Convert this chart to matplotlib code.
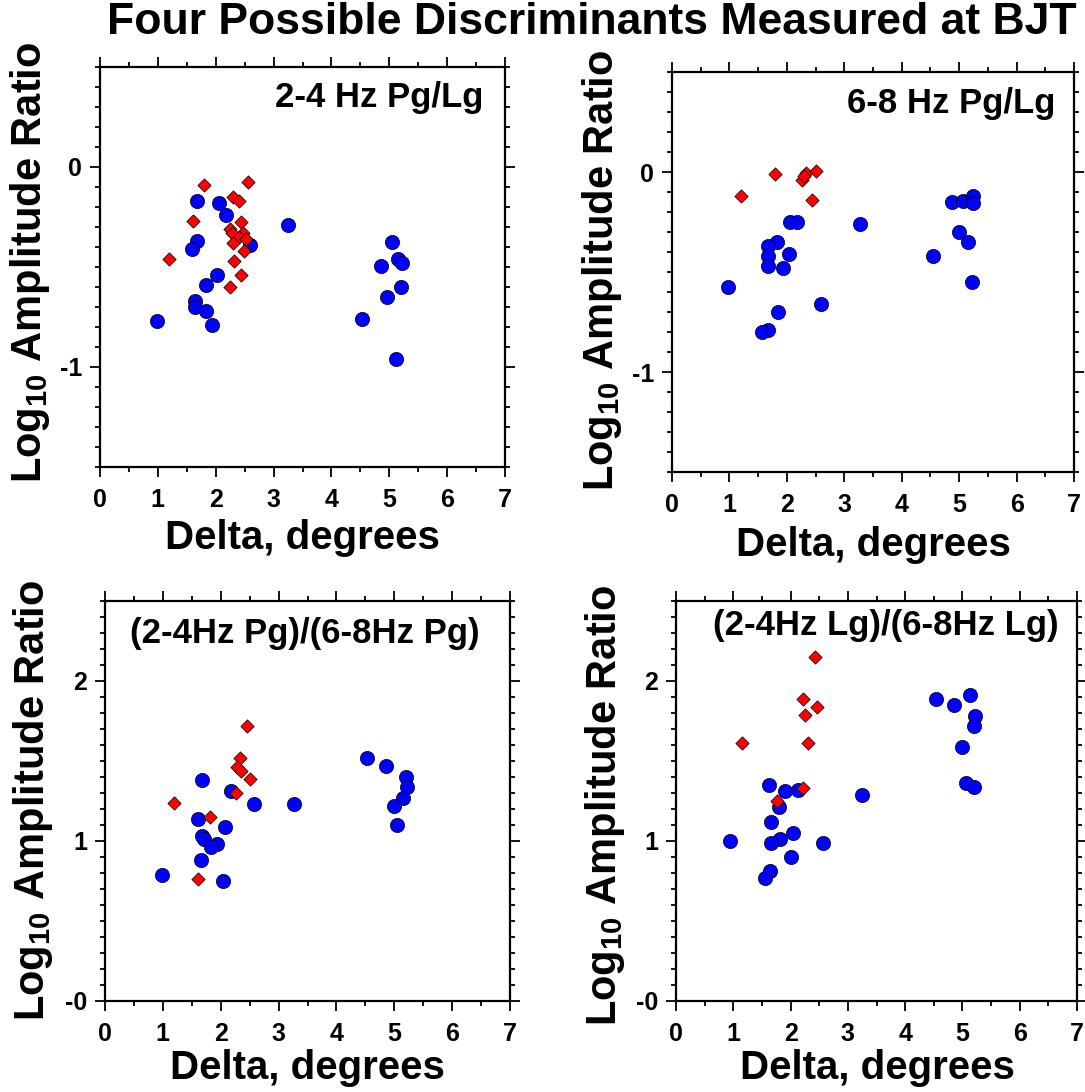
import matplotlib
matplotlib.use("Agg")
import matplotlib.pyplot as plt
from matplotlib.ticker import MultipleLocator, FixedLocator

plt.rcParams["font.family"] = ["Liberation Sans", "DejaVu Sans"]
plt.rcParams["font.weight"] = "bold"
plt.rcParams["mathtext.fontset"] = "custom"
plt.rcParams["mathtext.rm"] = "Liberation Sans:bold"
plt.rcParams["mathtext.bf"] = "Liberation Sans:bold"
plt.rcParams["mathtext.default"] = "bf"

W, H = 1085, 1092

# panel (a) 2-4 Hz Pg/Lg
a_blue_x = [1.67, 2.06, 2.17, 3.25, 1.68, 1.59, 2.59, 2.03, 1.83, 1.65, 1.65, 1.83, 0.99, 1.93,
            5.05, 4.86, 5.15, 5.22, 5.20, 4.96, 4.53, 5.12]
a_blue_y = [-0.17, -0.18, -0.24, -0.29, -0.37, -0.41, -0.39, -0.54, -0.59, -0.67, -0.70, -0.72, -0.77, -0.79,
            -0.375, -0.495, -0.46, -0.48, -0.60, -0.65, -0.76, -0.96]
a_red_x = [1.79, 2.55, 2.30, 2.41, 1.60, 2.44, 2.24, 2.29, 2.48, 2.41, 2.53, 2.30, 2.49, 1.20, 2.32, 2.44, 2.25]
a_red_y = [-0.09, -0.075, -0.15, -0.17, -0.27, -0.275, -0.31, -0.33, -0.33, -0.35, -0.36, -0.38, -0.42,
           -0.46, -0.47, -0.54, -0.60]

# panel (b) 6-8 Hz Pg/Lg
b_blue_x = [2.06, 2.18, 3.27, 1.83, 1.67, 2.04, 1.68, 1.68, 1.93, 0.98, 2.59, 1.85, 1.67, 1.57,
            4.88, 5.07, 5.24, 5.24, 5.00, 5.15, 4.55, 5.22]
b_blue_y = [-0.25, -0.25, -0.26, -0.35, -0.37, -0.41, -0.42, -0.47, -0.48, -0.575, -0.66, -0.70, -0.79, -0.80,
            -0.15, -0.145, -0.12, -0.157, -0.30, -0.35, -0.42, -0.55]
b_red_x = [1.80, 1.21, 2.33, 2.26, 2.50, 2.44, 2.30]
b_red_y = [-0.01, -0.12, -0.007, -0.04, 0.003, -0.14, -0.02]

# panel (c) (2-4Hz Pg)/(6-8Hz Pg)
c_blue_x = [1.68, 2.17, 2.58, 3.26, 1.60, 2.07, 1.68, 1.71, 1.94, 1.84, 1.66, 0.99, 2.04,
            4.53, 4.86, 5.20, 5.22, 5.15, 5.00, 5.05]
c_blue_y = [1.38, 1.31, 1.23, 1.23, 1.14, 1.09, 1.03, 1.01, 0.98, 0.96, 0.88, 0.79, 0.75,
            1.52, 1.47, 1.40, 1.34, 1.27, 1.22, 1.10]
c_red_x = [2.45, 2.33, 2.29, 2.35, 2.50, 2.26, 1.20, 1.81, 1.61]
c_red_y = [1.72, 1.52, 1.46, 1.44, 1.39, 1.30, 1.24, 1.15, 0.76]

# panel (d) (2-4Hz Lg)/(6-8Hz Lg)
d_blue_x = [1.63, 1.90, 2.13, 3.25, 1.80, 1.66, 2.04, 1.82, 1.65, 0.95, 2.56, 2.01, 1.64, 1.55,
            4.53, 4.86, 5.13, 5.22, 5.21, 4.99, 5.06, 5.21]
d_blue_y = [1.35, 1.31, 1.32, 1.29, 1.21, 1.12, 1.05, 1.01, 0.99, 1.00, 0.99, 0.90, 0.81, 0.77,
            1.89, 1.85, 1.91, 1.78, 1.72, 1.59, 1.36, 1.34]
d_red_x = [2.42, 2.22, 2.47, 2.26, 1.16, 2.30, 2.22, 1.77]
d_red_y = [2.15, 1.89, 1.84, 1.79, 1.61, 1.61, 1.33, 1.25]

panels = [
    dict(rect=(100, 67, 505, 467), bx=a_blue_x, by=a_blue_y, rx=a_red_x, ry=a_red_y,
         ylim=(-1.5, 0.5), yt=[-1, 0], ytl=["-1", "0"], label="2-4 Hz Pg/Lg",
         lpos=(483, 97), ha="right", ylab=(30, 262), xlab=(302, 538)),
    dict(rect=(672, 72, 1074, 472), bx=b_blue_x, by=b_blue_y, rx=b_red_x, ry=b_red_y,
         ylim=(-1.5, 0.5), yt=[-1, 0], ytl=["-1", "0"], label="6-8 Hz Pg/Lg",
         lpos=(1055, 104), ha="right", ylab=(602, 270), xlab=(873, 545)),
    dict(rect=(105, 601, 510, 1001), bx=c_blue_x, by=c_blue_y, rx=c_red_x, ry=c_red_y,
         ylim=(0, 2.5), yt=[0, 1, 2], ytl=["-0", "1", "2"], label="(2-4Hz Pg)/(6-8Hz Pg)",
         lpos=(305, 633), ha="center", ylab=(33, 800), xlab=(307, 1068)),
    dict(rect=(676, 601, 1077, 1001), bx=d_blue_x, by=d_blue_y, rx=d_red_x, ry=d_red_y,
         ylim=(0, 2.5), yt=[0, 1, 2], ytl=["-0", "1", "2"], label="(2-4Hz Lg)/(6-8Hz Lg)",
         lpos=(886, 625), ha="center", ylab=(605, 805), xlab=(877, 1068)),
]

fig = plt.figure(figsize=(W / 100, H / 100), dpi=100)


def fx(x):
    return x / W


def fy(y):
    return 1 - y / H


for p in panels:
    l, t, r, b = p["rect"]
    ax = fig.add_axes([fx(l), fy(b), (r - l) / W, (b - t) / H])
    ax.scatter(p["bx"], p["by"], s=105, c="#0000ff", marker="o", edgecolors="black", linewidths=0.5, zorder=3)
    ax.scatter(p["rx"], p["ry"], s=46, c="#ff0000", marker="D", edgecolors="black", linewidths=0.5, zorder=4)
    ax.set_xlim(0, 7)
    ax.set_ylim(*p["ylim"])
    ax.xaxis.set_major_locator(MultipleLocator(1))
    ax.xaxis.set_minor_locator(MultipleLocator(0.5))
    ax.yaxis.set_major_locator(FixedLocator(p["yt"]))
    ax.set_yticklabels(p["ytl"])
    ax.yaxis.set_minor_locator(MultipleLocator(0.1))
    ax.tick_params(which="both", direction="out", top=True, right=True, width=1.3, labelsize=18)
    ax.tick_params(axis="x", pad=8)
    ax.tick_params(axis="y", pad=6)
    ax.tick_params(which="major", length=7)
    ax.tick_params(which="minor", length=3.5)
    for sp in ax.spines.values():
        sp.set_linewidth(1.6)
    for lab in ax.get_xticklabels() + ax.get_yticklabels():
        lab.set_fontweight("bold")
    fig.text(fx(p["lpos"][0]), fy(p["lpos"][1]), p["label"], ha=p["ha"], va="center",
             fontsize=25, fontweight="bold")
    fig.text(fx(p["ylab"][0]), fy(p["ylab"][1]), "Log$_{10}$ Amplitude Ratio", rotation=90,
             ha="center", va="center", fontsize=30, fontweight="bold")
    fig.text(fx(p["xlab"][0]), fy(p["xlab"][1]), "Delta, degrees", ha="center", va="center",
             fontsize=29, fontweight="bold")

fig.text(fx(592), fy(23), "Four Possible Discriminants Measured at BJT", ha="center", va="center",
         fontsize=32, fontweight="bold")

fig.savefig("out.png", dpi=100)
